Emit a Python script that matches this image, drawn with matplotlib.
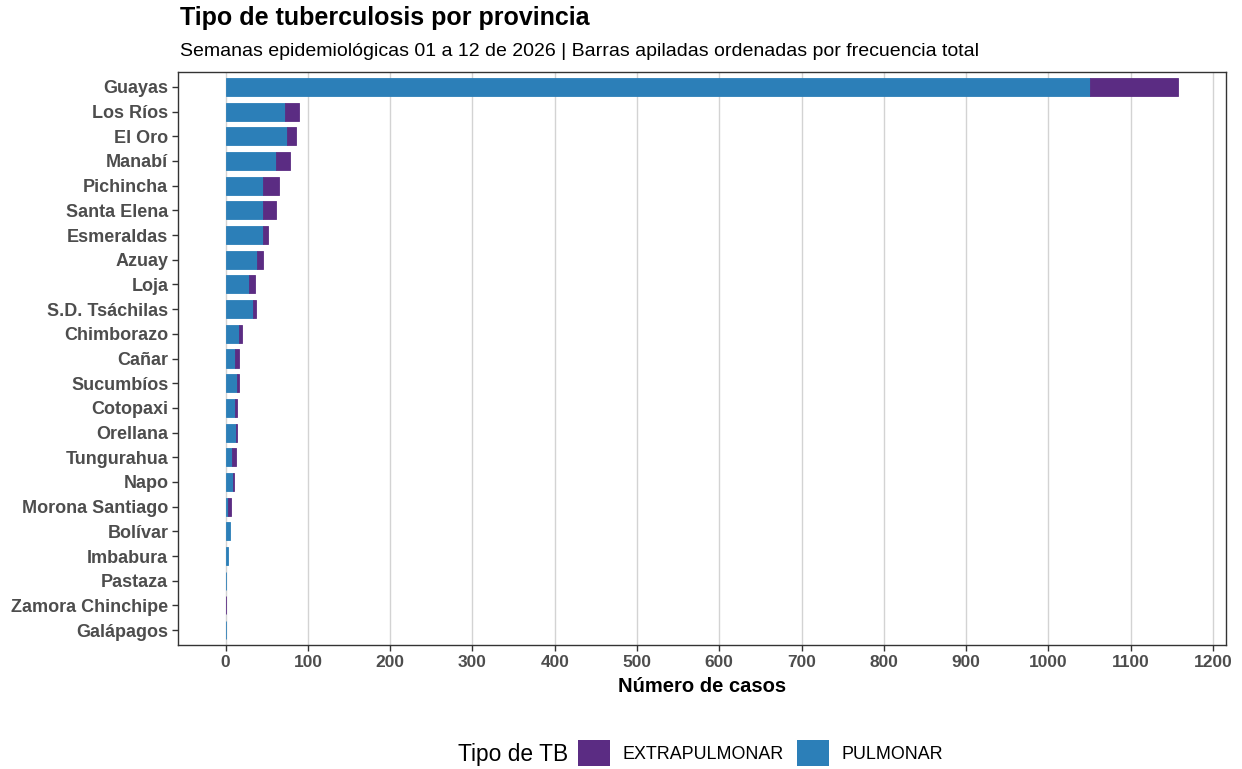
import matplotlib
matplotlib.use("Agg")
import matplotlib.pyplot as plt
from matplotlib.patches import Patch
import numpy as np

provincias = ["Guayas", "Los Ríos", "El Oro", "Manabí", "Pichincha", "Santa Elena",
              "Esmeraldas", "Azuay", "Loja", "S.D. Tsáchilas", "Chimborazo", "Cañar",
              "Sucumbíos", "Cotopaxi", "Orellana", "Tungurahua", "Napo", "Morona Santiago",
              "Bolívar", "Imbabura", "Pastaza", "Zamora Chinchipe", "Galápagos"]
pulmonar = [1050, 72, 74, 61, 46, 46, 46, 38, 29, 33, 16, 11,
            14, 11, 13, 8, 9, 3, 5, 3, 1, 0, 1]
extrapulmonar = [108, 17, 11, 17, 19, 15, 6, 7, 7, 4, 4, 5,
                 2, 3, 1, 4, 1, 4, 0, 0, 0, 1, 0]
xticks = list(range(0, 1201, 100))

c_pul = "#2C7FB8"
c_ext = "#5B2C83"

plt.rcParams['font.family'] = ['Liberation Sans', 'DejaVu Sans']

fig = plt.figure(figsize=(12.42, 7.69), dpi=100)
ax = fig.add_axes([178/1242, 1-645/769, (1226-178)/1242, (645-72)/769])

n = len(provincias)
y = np.arange(n)[::-1]
pul = np.array(pulmonar)
ext = np.array(extrapulmonar)
lw_pul = [0.6 if v > 0 else 0 for v in pul]
lw_ext = [0.6 if v > 0 else 0 for v in ext]
ax.barh(y, pul, height=0.73, color=c_pul, edgecolor=c_pul, linewidth=lw_pul, zorder=3)
ax.barh(y, ext, left=pul, height=0.73, color=c_ext, edgecolor=c_ext, linewidth=lw_ext, zorder=3)

tot = (pul + ext).max()
ax.set_xlim(-0.05*tot, tot*1.05)
ax.set_ylim(-0.6, n-0.4)
ax.set_yticks(y)
ax.set_yticklabels(provincias, fontsize=13, fontweight='bold', color='#4D4D4D')
ax.set_xticks(xticks)
ax.set_xticklabels([str(v) for v in xticks], fontsize=12.5, fontweight='bold', color='#4D4D4D')
ax.grid(axis='x', color='#D3D3D3', linewidth=1, zorder=0)
ax.tick_params(axis='both', length=4, width=1, color='#333333', pad=3)
for s in ax.spines.values():
    s.set_color('#333333')
    s.set_linewidth(1)
ax.set_xlabel("Número de casos", fontsize=14.5, fontweight='bold', labelpad=5)

fig.text(180/1242, 1-18/769, "Tipo de tuberculosis por provincia", fontsize=18,
         fontweight='bold', va='center', ha='left')
fig.text(180/1242, 1-51/769,
         "Semanas epidemiológicas 01 a 12 de 2026 | Barras apiladas ordenadas por frecuencia total",
         fontsize=14, va='center', ha='left')

handles = [Patch(facecolor=c_ext, label="EXTRAPULMONAR"),
           Patch(facecolor=c_pul, label="PULMONAR")]
fig.text(458/1242, 1-755/769, "Tipo de TB", fontsize=16.4, va='center', ha='left')
fig.legend(handles=handles, loc='center left', bbox_to_anchor=(578/1242, 1-753/769),
           ncol=2, frameon=False, fontsize=12.9, borderpad=0, borderaxespad=0,
           handlelength=1.8, handleheight=1.8, handletextpad=0.7, columnspacing=0.7)

fig.savefig("out.png", dpi=100)
